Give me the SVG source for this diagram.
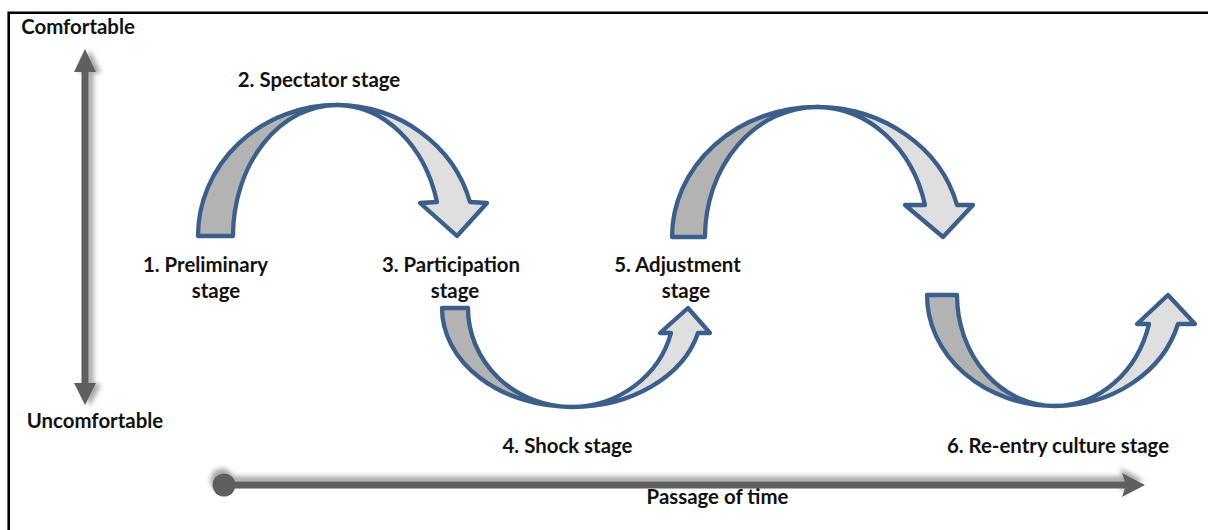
<svg xmlns="http://www.w3.org/2000/svg" width="1208" height="530" viewBox="0 0 1208 530">
  <defs>
    <style>
      .lbl { font-family: Lato, "Liberation Sans", sans-serif; font-weight: 700; font-size: 20.4px; fill: #111; text-anchor: middle; }
      .back { fill: #b3b3b3; stroke: #3b5e8b; stroke-width: 4.3; stroke-linejoin: round; }
      .front { fill: #dfdfdf; stroke: #3b5e8b; stroke-width: 4.3; stroke-linejoin: round; }
      .axis { fill: #5f5f5f; }
    </style>
    <filter id="shadowR" x="-50%" y="-10%" width="200%" height="120%">
      <feDropShadow dx="5" dy="1" stdDeviation="2.5" flood-color="#000" flood-opacity="0.35"/>
    </filter>
    <filter id="shadowU" x="-5%" y="-100%" width="110%" height="300%">
      <feDropShadow dx="-2" dy="-5" stdDeviation="2.5" flood-color="#000" flood-opacity="0.35"/>
    </filter>
  </defs>

  <!-- frame -->
  <path d="M8.7,530 V12.8 H1208" fill="none" stroke="#000" stroke-width="2.6"/>

  <!-- comfort axis -->
  <g id="comfort-axis" class="axis" filter="url(#shadowR)">
    <rect x="81.5" y="70" width="7" height="316"/>
    <polygon points="85,49 96,72 74,72"/>
    <polygon points="85,405 96,383 74,383"/>
  </g>

  <!-- time axis -->
  <g id="time-axis" class="axis" filter="url(#shadowU)">
    <circle cx="224" cy="485" r="11.5"/>
    <rect x="224" y="481.5" width="906" height="7"/>
    <polygon points="1122,473 1145,485 1122,497 1126,485"/>
  </g>

  <!-- stage transitions -->
  <g id="connectors">
    <g id="arc-spectator">
      <path class="back" d="M198,236 A139,131 0 0 1 337,105 A104,131 0 0 0 233,236 Z"/>
      <path class="front" d="M337,105 A139,131 0 0 1 470,202 L487,203 L457,236 L420,203 L437,202 A104,131 0 0 0 337,105 Z"/>
    </g>
    <g id="arc-shock">
      <path class="back" d="M442,308 A130,99 0 0 0 572,407 A104,99 0 0 1 468,308 Z"/>
      <path class="front" d="M572,407 A130,99 0 0 0 698,333 L710,333 L688,308 L660,333 L671,333 A104,99 0 0 1 572,407 Z"/>
    </g>
    <g id="arc-adjustment">
      <path class="back" d="M672,237 A145,130 0 0 1 817,107 A112,130 0 0 0 705,237 Z"/>
      <path class="front" d="M817,107 A145,130 0 0 1 957,205 L973,205 L943,237 L905,205 L925,205 A112,130 0 0 0 817,107 Z"/>
    </g>
    <g id="arc-reentry">
      <path class="back" d="M927,295 A128,111 0 0 0 1055,406 A98,111 0 0 1 957,295 Z"/>
      <path class="front" d="M1055,406 A128,111 0 0 0 1178,324 L1195,324 L1168,295 L1137,324 L1149,324 A98,111 0 0 1 1055,406 Z"/>
    </g>
  </g>

  <!-- labels -->
  <g id="label-comfortable"><text class="lbl" x="78" y="33.5">Comfortable</text></g>
  <g id="label-uncomfortable"><text class="lbl" x="95" y="428">Uncomfortable</text></g>
  <g id="stage-1"><text class="lbl" x="205.5" y="272">1. Preliminary</text><text class="lbl" x="216" y="298">stage</text></g>
  <g id="stage-2"><text class="lbl" x="319" y="87">2. Spectator stage</text></g>
  <g id="stage-3"><text class="lbl" x="451" y="272">3. Participation</text><text class="lbl" x="455" y="298">stage</text></g>
  <g id="stage-4"><text class="lbl" x="567.5" y="453">4. Shock stage</text></g>
  <g id="stage-5"><text class="lbl" x="677.5" y="272">5. Adjustment</text><text class="lbl" x="686" y="298">stage</text></g>
  <g id="stage-6"><text class="lbl" x="1058" y="453">6. Re-entry culture stage</text></g>
  <g id="label-time"><text class="lbl" x="717.5" y="504">Passage of time</text></g>
</svg>
